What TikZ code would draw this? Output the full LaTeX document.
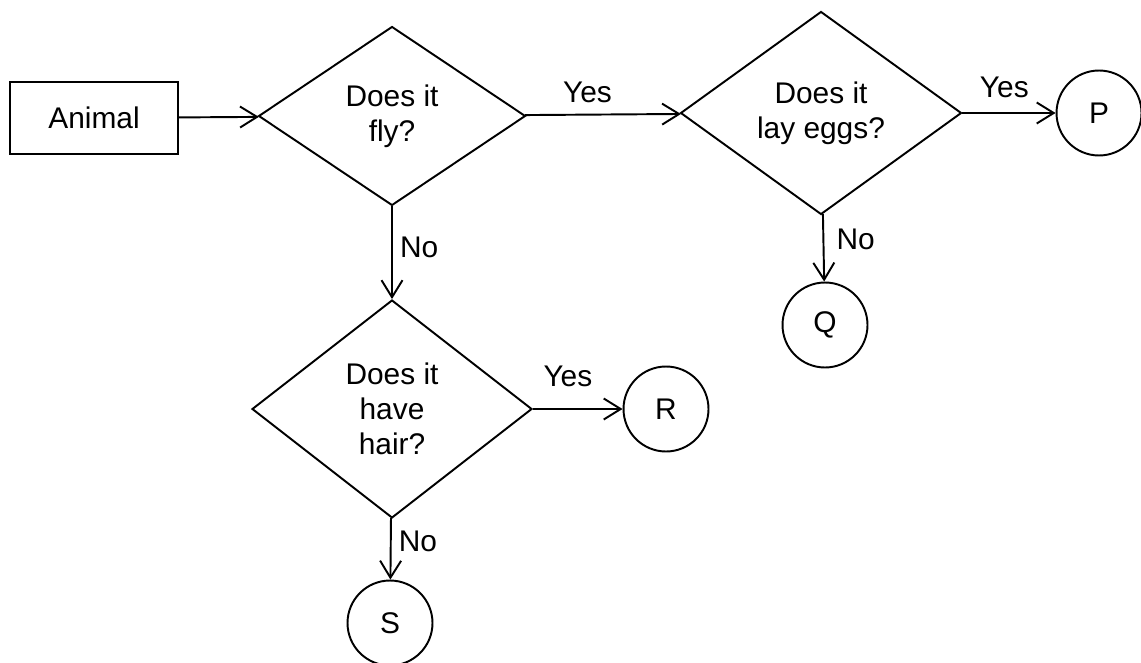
\documentclass[tikz,border=0pt]{standalone}
\usepackage{fontspec}
\setmainfont{Liberation Sans}
\usetikzlibrary{shapes.geometric,arrows.meta}

\begin{document}
\begin{tikzpicture}[x=0.02cm,y=-0.02cm,line width=1.1pt,
		every node/.style={font=\fontsize{17}{19.9}\selectfont},
		question/.style={draw,diamond,inner sep=0pt,align=center},
		leaf/.style={draw,circle,minimum size=1.7cm,inner sep=0pt},
		answer/.style={inner sep=1pt}]
	\useasboundingbox (0,0) rectangle (1141,662);
	\node[draw,minimum width=3.36cm,minimum height=1.44cm] at (94,118) (animal) {Animal};
	\node[question,minimum width=5.34cm,minimum height=3.58cm] at (392,116) (fly) {Does it\\fly?};
	\node[question,minimum width=5.62cm,minimum height=4.06cm] at (821,113) (eggs) {Does it\\lay eggs?};
	\node[question,minimum width=5.6cm,minimum height=4.36cm] at (392,409) (hair) {Does it\\have\\hair?};
	\node[leaf] at (1099,113) (p) {P};
	\node[leaf] at (825,325) (q) {Q};
	\node[leaf] at (666,409) (r) {R};
	\node[leaf] at (390,623) (s) {S};

	\path[-{Straight Barb[length=3.4mm,width=4.2mm]}] (animal) edge (fly)
		(fly) edge node[answer,pos=0.4,above=5pt] {Yes} (eggs)
			edge node[answer,pos=0.44,right=3pt] {No} (hair)
		(eggs) edge node[answer,pos=0.45,above=7pt] {Yes} (p)
			edge node[answer,pos=0.37,right=6pt] {No} (q)
		(hair) edge node[answer,pos=0.39,above=11pt] {Yes} (r)
			edge node[answer,pos=0.37,right=3pt] {No} (s);
\end{tikzpicture}
\end{document}
